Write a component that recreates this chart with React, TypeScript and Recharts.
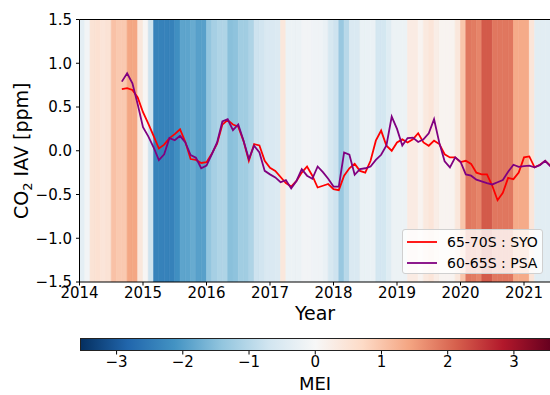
import React from "react";
import {
  ComposedChart,
  Line,
  XAxis,
  YAxis,
  ReferenceArea,
  ReferenceLine,
} from "recharts";

// Multivariate ENSO index, monthly from Jan 2014
const mei2014 = [-0.35, -0.1, 0.5, 0.55, 0.45, 0.5, 1.05, 0.95, 0.95, 1.4, 1.4, 0.4];
const mei2015 = [0.05, -0.75, -2.4, -2.4, -2.4, -2.4, -2.2, -1.9, -1.9, -1.8, -1.95, -1.95];
const mei2016 = [-1.4, -1.2, -1.1, -1.1, -1.5, -1.45, -1.25, -1.25, -1.1, -0.75, -0.7, -0.55];
const mei2017 = [-0.55, -0.5, 0.4, -0.2, -0.2, -0.2, -0.1, -0.1, -0.15, -0.15, -0.25, -0.6];
const mei2018 = [-0.75, -1.35, -1.0, -0.55, -0.55, -0.25, -0.25, -0.25, -0.65, -0.65, -0.45, -0.2];
const mei2019 = [-0.2, -0.2, 0.3, 0.3, 0.1, 0.35, 0.45, 0.25, 0.1, 0.1, 0.1, 0.4];
const mei2020 = [1.0, 1.9, 1.85, 1.75, 2.2, 2.2, 1.9, 1.9, 1.9, 1.9, 1.35, 1.35];
const mei2021 = [1.35, 0.45, -0.4, -0.4, -0.4];

// CO2 interannual variability [ppm], monthly from Sep 2014
const syo = [
  0.705, 0.715, 0.695, 0.61, 0.44, 0.31, 0.17, 0.026, 0.07, 0.145,
  0.19, 0.245, 0.1, -0.095, -0.105, -0.14, -0.13, -0.035, 0.08, 0.3,
  0.35, 0.3, 0.275, 0.11, -0.115, 0.075, 0.06, -0.115, -0.195, -0.23,
  -0.3, -0.37, -0.41, -0.345, -0.25, -0.18, -0.285, -0.42, -0.4, -0.38,
  -0.44, -0.45, -0.285, -0.2, -0.15, -0.23, -0.25, -0.115, 0.115, 0.23,
  0.057, 0.0, 0.095, 0.13, 0.095, 0.13, 0.2, 0.095, 0.057, 0.115,
  0.077, -0.04, -0.076, -0.076, -0.13, -0.115, -0.15, -0.25, -0.27, -0.27,
  -0.4, -0.565, -0.48, -0.31, -0.325, -0.25, -0.076, -0.065, -0.19, -0.16,
  -0.115, -0.17,
];
const psa = [
  0.79, 0.885, 0.77, 0.53, 0.27, 0.165, 0.04, -0.107, -0.04, 0.145,
  0.12, 0.17, 0.095, -0.05, -0.08, -0.2, -0.17, -0.04, 0.095, 0.335,
  0.36, 0.235, 0.3, 0.115, -0.095, 0.057, -0.02, -0.23, -0.27, -0.305,
  -0.36, -0.335, -0.43, -0.345, -0.21, -0.285, -0.32, -0.18, -0.245, -0.32,
  -0.41, -0.41, -0.02, -0.045, -0.275, -0.21, -0.2, -0.18, -0.105, -0.046,
  0.06, 0.39, 0.25, 0.06, 0.145, 0.15, 0.1, 0.13, 0.2, 0.36,
  0.09, -0.12, -0.19, -0.075, -0.125, -0.27, -0.285, -0.33, -0.35, -0.37,
  -0.385, -0.36, -0.335, -0.24, -0.16, -0.185, -0.175, -0.17, -0.19, -0.165,
  -0.115, -0.18,
];
const seriesStart = 2014 + 8 / 12;

const yearTicks = [2014, 2015, 2016, 2017, 2018, 2019, 2020, 2021];
const iavTicks = [-1.5, -1.0, -0.5, 0.0, 0.5, 1.0, 1.5];
const meiTicks = [-3, -2, -1, 0, 1, 2, 3];

// RdBu_r
const rdbu = [
  "#053061", "#2166ac", "#4393c3", "#92c5de", "#d1e5f0", "#f7f7f7",
  "#fddbc7", "#f4a582", "#d6604d", "#b2182b", "#67001f",
];
const MEI_LIM = 3.56;
const X_MAX = 2021.425;
const FONT = "DejaVu Sans";

const PLOT_LEFT = 79.5;
const PLOT_WIDTH = 471.5;

const hex = (c: string) => [1, 3, 5].map((i) => parseInt(c.slice(i, i + 2), 16));

function meiColor(v: number) {
  const f = Math.min(1, Math.max(0, (v + MEI_LIM) / (2 * MEI_LIM))) * (rdbu.length - 1);
  const i = Math.min(rdbu.length - 2, Math.floor(f));
  const a = hex(rdbu[i]);
  const b = hex(rdbu[i + 1]);
  const t = f - i;
  const c = a.map((x, k) => Math.round(x + (b[k] - x) * t));
  return `rgb(${c[0]},${c[1]},${c[2]})`;
}

const mei = [...mei2014, ...mei2015, ...mei2016, ...mei2017, ...mei2018, ...mei2019, ...mei2020, ...mei2021];
const stripes = mei.map((v, i) => ({
  x1: 2014 + i / 12,
  x2: 2014 + (i + 1) / 12,
  color: meiColor(v),
}));

const rows = syo.map((v, k) => ({ t: seriesStart + k / 12, syo: v, psa: psa[k] }));

const fmt = (v: number) => v.toFixed(1).replace("-", "\u2212");
const fmtInt = (v: number) => String(v).replace("-", "\u2212");

const tickStyle = { fontSize: 15, fill: "#000", fontFamily: FONT };

const barGradient = `linear-gradient(to right, ${rdbu
  .map((c, i) => `${c} ${(i / (rdbu.length - 1)) * 100}%`)
  .join(", ")})`;

export default function App() {
  return (
    <div
      style={{
        position: "absolute",
        left: 0,
        top: 0,
        width: 550,
        height: 395,
        overflow: "hidden",
        background: "#fff",
        fontFamily: FONT,
      }}
    >
      <div style={{ position: "absolute", left: 0, top: 0 }}>
        <ComposedChart
          width={560}
          height={305}
          data={rows}
          margin={{ top: 19.5, right: 9, bottom: 5, left: 0 }}
        >
          <XAxis
            dataKey="t"
            type="number"
            domain={[2014, X_MAX]}
            ticks={yearTicks}
            interval={0}
            allowDataOverflow
            height={18}
            tickSize={3.5}
            tickMargin={2}
            tick={tickStyle}
            tickLine={{ stroke: "#000" }}
            axisLine={{ stroke: "#000" }}
          />
          <YAxis
            type="number"
            domain={[-1.5, 1.5]}
            ticks={iavTicks}
            interval={0}
            allowDataOverflow
            width={PLOT_LEFT}
            tickSize={3.5}
            tickMargin={4}
            tickFormatter={fmt}
            tick={tickStyle}
            tickLine={{ stroke: "#000" }}
            axisLine={{ stroke: "#000" }}
          />
          {stripes.map((s, i) => (
            <ReferenceArea
              key={i}
              x1={s.x1}
              x2={s.x2}
              y1={-1.5}
              y2={1.5}
              fill={s.color}
              fillOpacity={1}
              stroke={s.color}
              strokeWidth={0.6}
              ifOverflow="hidden"
            />
          ))}
          <ReferenceLine y={1.5} stroke="#000" strokeWidth={1} />
          <Line
            dataKey="syo"
            type="linear"
            stroke="#ff0000"
            strokeWidth={1.8}
            dot={false}
            activeDot={false}
            isAnimationActive={false}
          />
          <Line
            dataKey="psa"
            type="linear"
            stroke="#800080"
            strokeWidth={1.8}
            dot={false}
            activeDot={false}
            isAnimationActive={false}
          />
        </ComposedChart>
      </div>

      <svg
        width={550}
        height={395}
        style={{ position: "absolute", left: 0, top: 0, pointerEvents: "none" }}
      >
        <text
          transform="translate(28,150.75) rotate(-90)"
          textAnchor="middle"
          fontFamily={FONT}
          fontSize={19}
          fill="#000"
        >
          CO
          <tspan fontSize={13} dy={4}>2</tspan>
          <tspan dy={-4}> IAV [ppm]</tspan>
        </text>
        <text x={315} y={320} textAnchor="middle" fontFamily={FONT} fontSize={19} fill="#000">
          Year
        </text>
        <text x={315} y={390} textAnchor="middle" fontFamily={FONT} fontSize={18} fill="#000">
          MEI
        </text>
      </svg>

      <div
        style={{
          position: "absolute",
          left: 402,
          top: 229,
          width: 141,
          height: 45,
          boxSizing: "border-box",
          background: "rgba(255,255,255,0.8)",
          border: "1px solid #d0d0d0",
          borderRadius: 3,
          fontSize: 14,
          color: "#000",
        }}
      >
        {[
          { c: "#ff0000", label: "65-70S : SYO", y: 12 },
          { c: "#800080", label: "60-65S : PSA", y: 33 },
        ].map((r) => (
          <div key={r.label} style={{ position: "absolute", left: 0, top: r.y - 9, height: 18, width: 140 }}>
            <svg width={40} height={18} style={{ position: "absolute", left: 0, top: 0 }}>
              <line x1={4} x2={34} y1={9} y2={9} stroke={r.c} strokeWidth={1.8} />
            </svg>
            <span style={{ position: "absolute", left: 44, top: 0, lineHeight: "18px", whiteSpace: "nowrap" }}>
              {r.label}
            </span>
          </div>
        ))}
      </div>

      {/* colour bar */}
      <div
        style={{
          position: "absolute",
          left: PLOT_LEFT,
          top: 338,
          width: PLOT_WIDTH,
          height: 13,
          boxSizing: "border-box",
          background: barGradient,
          border: "0.8px solid #222",
        }}
      />
      <div style={{ position: "absolute", left: 0, top: 338 }}>
        <ComposedChart
          width={560}
          height={45}
          data={[{ v: -MEI_LIM }, { v: MEI_LIM }]}
          margin={{ top: 0, right: 9, bottom: 0, left: PLOT_LEFT }}
        >
          <XAxis
            dataKey="v"
            type="number"
            domain={[-MEI_LIM, MEI_LIM]}
            ticks={meiTicks}
            interval={0}
            height={32}
            tickSize={3.5}
            tickMargin={2}
            tickFormatter={fmtInt}
            tick={tickStyle}
            tickLine={{ stroke: "#000" }}
            axisLine={false}
          />
          <YAxis hide domain={[0, 1]} />
        </ComposedChart>
      </div>
    </div>
  );
}
